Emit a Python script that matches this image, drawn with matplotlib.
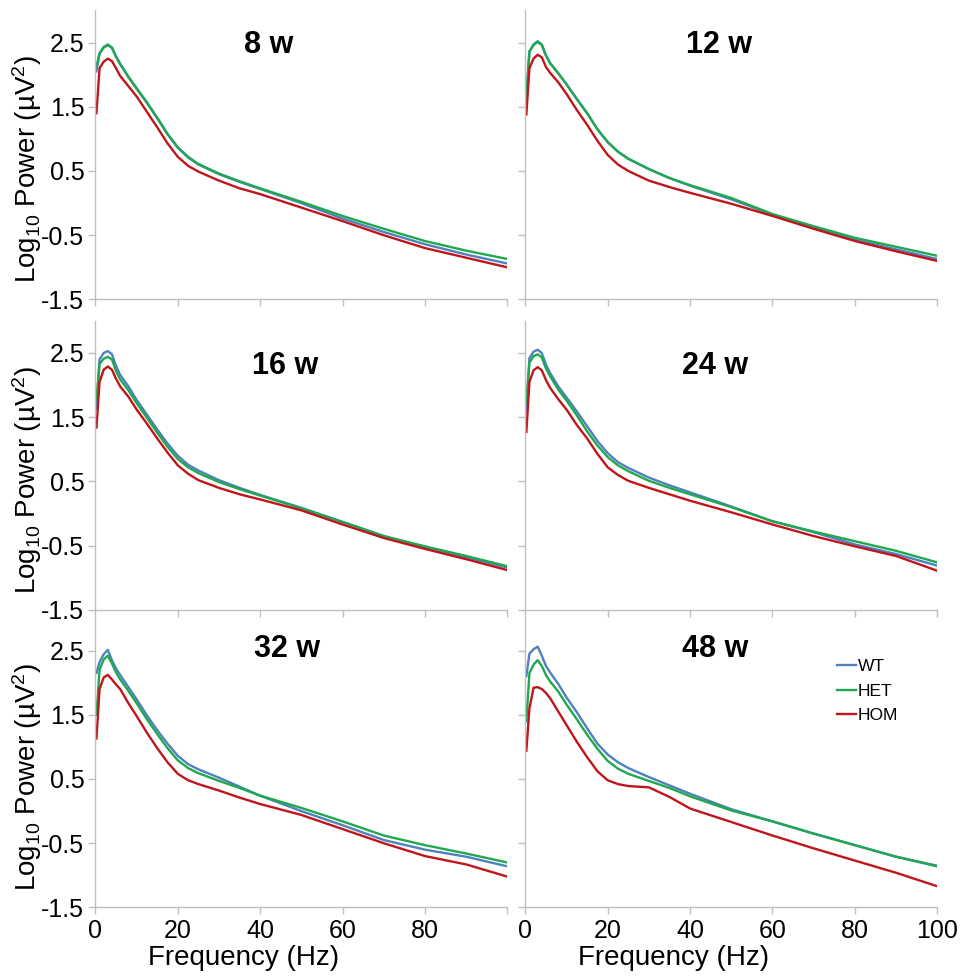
import numpy as np
import matplotlib
matplotlib.use('Agg')
import matplotlib.pyplot as plt

plt.rcParams['font.family'] = ['Liberation Sans', 'DejaVu Sans']
plt.rcParams['mathtext.default'] = 'regular'

# frequency grid (Hz) shared by every curve
freq = [0.25, 1, 2, 3, 4, 5, 6, 8, 10, 12.5, 15, 17.5, 20, 22.5, 25, 30, 35, 40, 50, 60, 70, 80, 90, 100]

# log10 power per age, per genotype
wt_8w = [2.05, 2.33, 2.43, 2.47, 2.42, 2.28, 2.16, 1.96, 1.78, 1.56, 1.32, 1.07, 0.86, 0.71, 0.60, 0.45, 0.33, 0.22, 0.00, -0.24, -0.45, -0.64, -0.80, -0.94]
het_8w = [2.13, 2.33, 2.42, 2.46, 2.42, 2.28, 2.17, 1.97, 1.79, 1.57, 1.33, 1.08, 0.87, 0.72, 0.61, 0.46, 0.34, 0.23, 0.02, -0.20, -0.40, -0.59, -0.74, -0.87]
hom_8w = [1.40, 2.10, 2.20, 2.25, 2.21, 2.10, 1.98, 1.82, 1.66, 1.42, 1.18, 0.93, 0.72, 0.58, 0.49, 0.35, 0.23, 0.14, -0.07, -0.28, -0.50, -0.70, -0.85, -1.00]

wt_12w = [1.65, 2.36, 2.47, 2.52, 2.47, 2.30, 2.18, 2.02, 1.85, 1.62, 1.40, 1.15, 0.95, 0.80, 0.69, 0.53, 0.39, 0.27, 0.06, -0.18, -0.38, -0.57, -0.72, -0.87]
het_12w = [1.69, 2.36, 2.46, 2.51, 2.46, 2.30, 2.18, 2.02, 1.85, 1.62, 1.40, 1.15, 0.95, 0.80, 0.69, 0.53, 0.39, 0.28, 0.08, -0.17, -0.36, -0.54, -0.68, -0.82]
hom_12w = [1.38, 2.10, 2.25, 2.31, 2.27, 2.12, 2.03, 1.88, 1.70, 1.45, 1.22, 0.97, 0.75, 0.60, 0.50, 0.35, 0.25, 0.16, -0.01, -0.20, -0.40, -0.59, -0.75, -0.90]

wt_16w = [1.63, 2.40, 2.50, 2.53, 2.48, 2.30, 2.16, 1.98, 1.77, 1.54, 1.31, 1.09, 0.90, 0.76, 0.67, 0.52, 0.40, 0.29, 0.09, -0.13, -0.35, -0.52, -0.68, -0.84]
het_16w = [1.78, 2.33, 2.41, 2.44, 2.40, 2.22, 2.09, 1.92, 1.72, 1.49, 1.26, 1.04, 0.85, 0.72, 0.63, 0.49, 0.38, 0.28, 0.08, -0.13, -0.35, -0.51, -0.66, -0.82]
hom_16w = [1.34, 2.05, 2.24, 2.29, 2.24, 2.10, 1.98, 1.82, 1.62, 1.40, 1.17, 0.95, 0.75, 0.62, 0.52, 0.40, 0.30, 0.22, 0.05, -0.17, -0.38, -0.55, -0.71, -0.88]

wt_24w = [1.58, 2.42, 2.52, 2.55, 2.50, 2.32, 2.19, 1.98, 1.81, 1.59, 1.36, 1.13, 0.94, 0.80, 0.71, 0.56, 0.44, 0.33, 0.11, -0.12, -0.29, -0.48, -0.63, -0.81]
het_24w = [1.74, 2.35, 2.45, 2.48, 2.43, 2.26, 2.14, 1.93, 1.76, 1.53, 1.28, 1.06, 0.88, 0.75, 0.66, 0.51, 0.40, 0.30, 0.10, -0.12, -0.28, -0.43, -0.58, -0.76]
hom_24w = [1.27, 2.05, 2.23, 2.28, 2.23, 2.08, 1.96, 1.78, 1.62, 1.38, 1.17, 0.93, 0.72, 0.60, 0.51, 0.40, 0.30, 0.20, 0.02, -0.17, -0.35, -0.51, -0.66, -0.89]

wt_32w = [2.15, 2.32, 2.44, 2.51, 2.35, 2.22, 2.12, 1.93, 1.74, 1.49, 1.26, 1.05, 0.86, 0.73, 0.65, 0.52, 0.38, 0.24, 0.00, -0.22, -0.45, -0.60, -0.71, -0.86]
het_32w = [1.50, 2.20, 2.36, 2.42, 2.30, 2.16, 2.05, 1.87, 1.68, 1.43, 1.20, 0.98, 0.79, 0.67, 0.59, 0.47, 0.36, 0.24, 0.05, -0.16, -0.38, -0.53, -0.66, -0.80]
hom_32w = [1.13, 1.90, 2.08, 2.12, 2.05, 1.97, 1.90, 1.68, 1.48, 1.22, 0.98, 0.76, 0.58, 0.48, 0.42, 0.32, 0.21, 0.11, -0.06, -0.28, -0.50, -0.70, -0.83, -1.02]

wt_48w = [2.10, 2.45, 2.52, 2.56, 2.42, 2.26, 2.16, 1.98, 1.77, 1.54, 1.29, 1.05, 0.88, 0.76, 0.67, 0.53, 0.40, 0.27, 0.03, -0.16, -0.35, -0.53, -0.71, -0.85]
het_48w = [1.40, 2.15, 2.28, 2.35, 2.26, 2.12, 2.02, 1.86, 1.66, 1.43, 1.19, 0.97, 0.78, 0.66, 0.58, 0.47, 0.36, 0.23, 0.01, -0.16, -0.35, -0.53, -0.71, -0.86]
hom_48w = [0.94, 1.60, 1.92, 1.93, 1.90, 1.84, 1.76, 1.55, 1.34, 1.08, 0.84, 0.62, 0.48, 0.42, 0.39, 0.37, 0.22, 0.04, -0.17, -0.38, -0.58, -0.77, -0.96, -1.17]

ages = ['8 w', '12 w', '16 w', '24 w', '32 w', '48 w']
wt = [wt_8w, wt_12w, wt_16w, wt_24w, wt_32w, wt_48w]
het = [het_8w, het_12w, het_16w, het_24w, het_32w, het_48w]
hom = [hom_8w, hom_12w, hom_16w, hom_24w, hom_32w, hom_48w]

labels = ['WT', 'HET', 'HOM']
colors = ['#4f81bd', '#1fa84f', '#c0151b']

xticks = [0, 20, 40, 60, 80, 100]
yticks = [-1.5, -0.5, 0.5, 1.5, 2.5]

# axes placement in figure fractions (left, bottom)
col_x = [0.0991, 0.5455]
row_y = [0.6944, 0.3776, 0.0740]
ax_w, ax_h = 0.4278, 0.295
title_pos = [(0.42, 0.88), (0.47, 0.88), (0.46, 0.845), (0.46, 0.845), (0.465, 0.895), (0.46, 0.895)]

grey = '#bfbfbf'

fig = plt.figure(figsize=(9.63, 9.8), dpi=100)

for i, age in enumerate(ages):
    row, col = divmod(i, 2)
    ax = fig.add_axes([col_x[col], row_y[row], ax_w, ax_h])

    for series, lab, c in zip([wt[i], het[i], hom[i]], labels, colors):
        ax.plot(freq, series, '-', c=c, lw=1.7, label=lab)

    ax.set_xlim(0, 100)
    ax.set_ylim(-1.5, 3.0)
    ax.set_xticks(xticks)
    ax.set_yticks(yticks)

    for s in ['top', 'right']:
        ax.spines[s].set_visible(False)
    for s in ['left', 'bottom']:
        ax.spines[s].set_color(grey)
        ax.spines[s].set_linewidth(1.0)
    ax.tick_params(direction='out', length=5, width=1, color=grey,
                   labelsize=18, pad=3)

    if col == 0:
        ax.set_yticklabels(['-1.5', '-0.5', '0.5', '1.5', '2.5'])
        ax.set_ylabel('Log$_{10}$ Power (\u00b5V$^{2}$)', fontsize=20)
        ax.yaxis.set_label_coords(-0.125, 0.45)
    else:
        ax.set_yticklabels([])

    if row == 2:
        if col == 0:
            ax.set_xticklabels(['0', '20', '40', '60', '80', ''])
        else:
            ax.set_xticklabels([str(t) for t in xticks])
        ax.set_xlabel('Frequency (Hz)', fontsize=20)
        ax.xaxis.set_label_coords(0.36, -0.13)
    else:
        ax.set_xticklabels([])

    tx, ty = title_pos[i]
    ax.text(tx, ty, age, transform=ax.transAxes, ha='center', va='center',
            fontsize=22, fontweight='bold')

    if age == '48 w':
        ax.legend(loc='upper left', bbox_to_anchor=(0.757, 0.86),
                  bbox_transform=ax.transAxes, frameon=False, fontsize=12.5,
                  handlelength=1.1, handletextpad=0.1, labelspacing=0.55,
                  borderpad=0, borderaxespad=0)

fig.savefig('out.png', dpi=100)
